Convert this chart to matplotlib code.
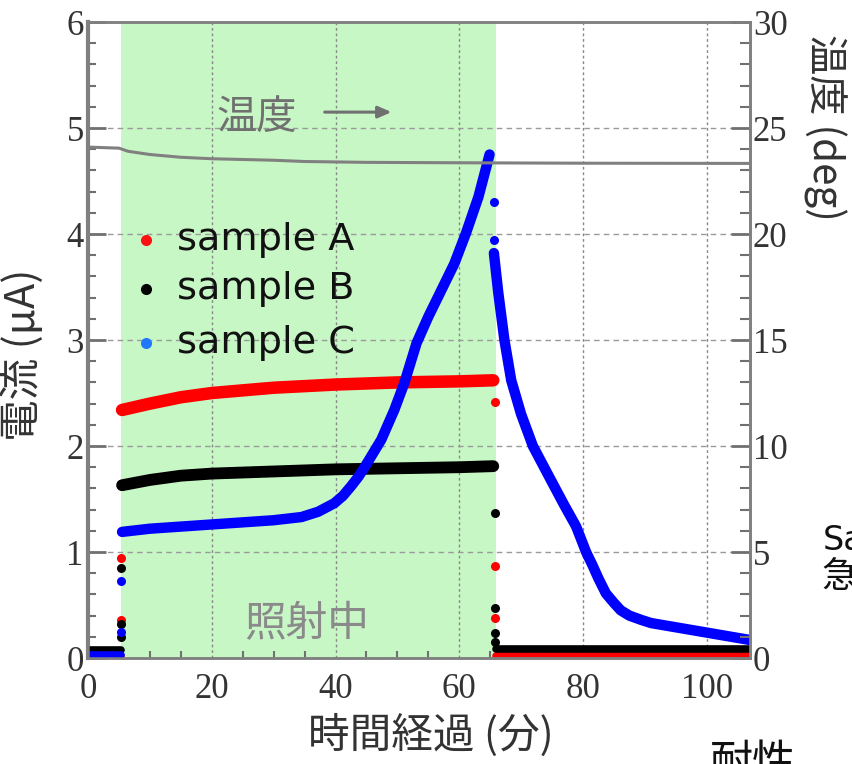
import matplotlib
matplotlib.use("Agg")
import matplotlib.pyplot as plt
from matplotlib.ticker import MultipleLocator

# ---- data ----
LIGHT_ON = 5.4
LIGHT_OFF = 65.9

# sample A (red)
a_pre_x = [0, 5.3]
a_pre_y = [0.02, 0.02]
a_on_x = [5.5, 10, 15, 20, 30, 40, 50, 60, 65.5]
a_on_y = [2.34, 2.40, 2.46, 2.50, 2.55, 2.58, 2.60, 2.61, 2.62]
a_post_x = [66.0, 107]
a_post_y = [0.015, 0.015]
a_dots_x = [5.35, 5.35, 65.7, 65.7, 65.7]
a_dots_y = [0.36, 0.94, 2.42, 0.87, 0.38]

# sample B (black)
b_pre_x = [0, 5.3]
b_pre_y = [0.075, 0.075]
b_on_x = [5.5, 10, 15, 20, 30, 40, 50, 60, 65.5]
b_on_y = [1.63, 1.68, 1.72, 1.74, 1.76, 1.78, 1.79, 1.80, 1.81]
b_post_x = [66.0, 107]
b_post_y = [0.085, 0.085]
b_dots_x = [5.35, 5.35, 5.35, 65.7, 65.7, 65.7, 65.7]
b_dots_y = [0.85, 0.32, 0.2, 1.37, 0.47, 0.24, 0.15]

# sample C (blue)
c_pre_x = [0, 5.3]
c_pre_y = [0.03, 0.03]
c_on_x = [5.5, 10, 15, 20, 25, 30, 34.5, 37.2, 39.8, 41.2, 42.5, 43.7, 44.7,
          47.4, 49.5, 51.1, 53.1, 55, 56.6, 59.2, 61.1, 63.1, 64.9]
c_on_y = [1.19, 1.22, 1.24, 1.26, 1.28, 1.30, 1.33, 1.38, 1.46, 1.53, 1.62,
          1.71, 1.80, 2.06, 2.34, 2.59, 2.97, 3.22, 3.41, 3.72, 4.01, 4.35, 4.75]
c_post_x = [65.6, 66.3, 67.3, 68.4, 70, 71.9, 74.8, 76.9, 78.9, 80.5, 81.5,
            82.5, 83.7, 85, 86.1, 87.5, 89.4, 91, 95, 99.5, 104, 107]
c_post_y = [3.82, 3.45, 3.00, 2.62, 2.30, 2.00, 1.68, 1.45, 1.24, 1.00, 0.88,
            0.75, 0.61, 0.52, 0.45, 0.40, 0.36, 0.33, 0.29, 0.245, 0.20, 0.17]
c_dots_x = [5.35, 5.35, 65.6, 65.6]
c_dots_y = [0.25, 0.73, 4.30, 3.94]

# temperature (right axis, deg)
temp_x = [0, 5, 6.5, 10, 15, 20, 30, 35, 45, 60, 80, 107]
temp_y = [24.1, 24.05, 23.9, 23.75, 23.62, 23.55, 23.48, 23.42, 23.38, 23.36, 23.34, 23.33]

legend_labels = ["sample A", "sample B", "sample C"]
legend_colors = ["#ff1010", "#000000", "#1f78ff"]
legend_y = [3.94, 3.48, 2.97]

CJK = ["Noto Sans CJK JP", "DejaVu Sans"]
SERIF = "Liberation Serif"
GRAY = "#808080"

fig = plt.figure(figsize=(8.53, 7.64), dpi=100)
ax = fig.add_axes([0.1032, 0.1387, 0.7761, 0.8325])
ax2 = ax.twinx()

ax.set_xlim(0, 107)
ax.set_ylim(0, 6)
ax2.set_ylim(0, 30)

ax.axvspan(LIGHT_ON, LIGHT_OFF, color="#c8f7c6", zorder=0, lw=0)

ax.grid(axis="y", which="major", ls=(0, (4, 3)), color="#9a9a9a", lw=1.0, zorder=1)
ax.grid(axis="x", which="major", ls=(0, (2, 2)), color="#888888", lw=1.0, zorder=1)
ax.set_axisbelow(True)

series = [
    ("#ff0000", 9, 2, [(a_pre_x, a_pre_y), (a_on_x, a_on_y), (a_post_x, a_post_y)], (a_dots_x, a_dots_y)),
    ("#000000", 8.5, 3, [(b_pre_x, b_pre_y), (b_on_x, b_on_y), (b_post_x, b_post_y)], (b_dots_x, b_dots_y)),
    ("#0000ff", 7.5, 4, [(c_pre_x, c_pre_y), (c_on_x, c_on_y), (c_post_x, c_post_y)], (c_dots_x, c_dots_y)),
]
for color, lw, z, parts, dots in series:
    for i, (xs, ys) in enumerate(parts):
        # the flat baselines are thinner than the illuminated bands
        w = lw if i == 1 or color == "#0000ff" and i == 2 else 5.5
        ax.plot(xs, ys, color=color, lw=w, solid_capstyle="round",
                solid_joinstyle="round", zorder=z)
    ax.plot(dots[0], dots[1], "o", color=color, ms=6.5, mec="none", zorder=z)

# temperature
ax2.plot(temp_x, temp_y, color=GRAY, lw=2.2, zorder=5)

# legend drawn by hand
for lab, col, yy in zip(legend_labels, legend_colors, legend_y):
    ax.plot([9.4], [yy], "o", color=col, ms=8, mec="none", zorder=6)
    ax.text(14.3, yy, lab, fontsize=27.5, family="DejaVu Sans",
            color="#111111", va="center", ha="left", zorder=6)

# annotations
ax.text(27.3, 5.1, "温度", fontsize=29, family=CJK, color="#707070",
        ha="center", va="center", zorder=6)
ax.annotate("", xy=(49.5, 5.15), xytext=(37.8, 5.15),
            arrowprops=dict(arrowstyle="-|>,head_length=0.8,head_width=0.35",
                            color="#707070", lw=2.2), zorder=6)
ax.text(35.4, 0.31, "照射中", fontsize=30, family=CJK, color="#8a8a8a",
        ha="center", va="center", zorder=6)

# axes styling
for a in (ax, ax2):
    for s in a.spines.values():
        s.set_color(GRAY)
        s.set_linewidth(1.8)
ax.spines["left"].set_linewidth(3)
ax2.spines["right"].set_linewidth(2)

ax.xaxis.set_major_locator(MultipleLocator(20))
ax.xaxis.set_minor_locator(MultipleLocator(5))
ax.yaxis.set_major_locator(MultipleLocator(1))
ax.yaxis.set_minor_locator(MultipleLocator(0.2))
ax2.yaxis.set_major_locator(MultipleLocator(5))
ax2.yaxis.set_minor_locator(MultipleLocator(1))

ax.tick_params(axis="y", which="major", direction="in", length=13, width=2,
               color="#707070", labelsize=25, labelcolor="#333333", pad=3)
ax.tick_params(axis="y", which="minor", direction="in", length=6, width=1.5,
               color="#707070")
ax.tick_params(axis="x", which="major", direction="in", length=0,
               labelsize=25, labelcolor="#333333", pad=11)
ax.tick_params(axis="x", which="minor", direction="in", length=5, width=1.5,
               color="#707070")
ax2.tick_params(axis="y", which="major", direction="in", length=14, width=2,
                color="#707070", labelsize=25, labelcolor="#333333", pad=2)
ax2.tick_params(axis="y", which="minor", direction="in", length=7, width=1.5,
                color="#707070")

for lbl in ax.get_xticklabels() + ax.get_yticklabels() + ax2.get_yticklabels():
    lbl.set_family(SERIF)

ax.set_xlabel("時間経過 (分)", fontsize=30, family=CJK, color="#333333")
ax.xaxis.set_label_coords(0.518, -0.088)
ax.set_ylabel("電流 (μA)", fontsize=30, family=CJK, color="#333333")
ax.yaxis.set_label_coords(-0.067, 0.476)
ax2.set_ylabel("温度 (deg)", fontsize=29, family=CJK, color="#333333",
               rotation=270)
ax2.yaxis.set_label_coords(1.145, 0.835)

# leftover text from the surrounding slide
fig.text(0.965, 0.292, "Sa", fontsize=24, family="DejaVu Sans", color="#111111",
         ha="left", va="center")
fig.text(0.963, 0.245, "急", fontsize=26, family=CJK, color="#111111",
         ha="left", va="center")
fig.text(0.832, 0.0, "耐性", fontsize=31, family=CJK, color="#111111",
         ha="left", va="center")

fig.savefig("out.png", dpi=100)
